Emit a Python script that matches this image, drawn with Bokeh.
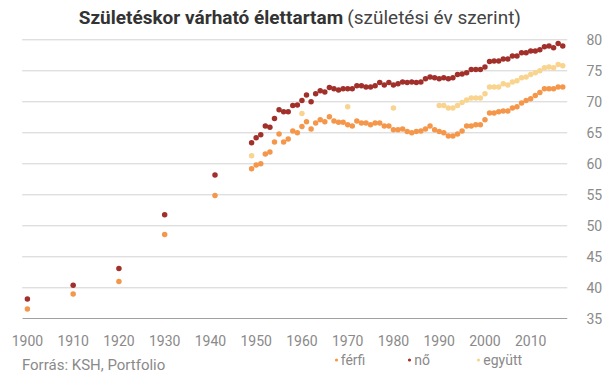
from bokeh.plotting import figure
from bokeh.models import (Label, Legend, LegendItem, LinearAxis, Range1d)
from bokeh.embed import file_html
from bokeh.resources import INLINE

# ---------------- data ----------------
evek_korai = [1900, 1910, 1920, 1930, 1941]
ferfi_korai = [36.6, 39.0, 41.0, 48.6, 54.9]
no_korai = [38.2, 40.4, 43.1, 51.8, 58.2]

evek = list(range(1949, 2018))
ferfi = [59.2, 59.8, 60.0, 61.6, 61.9, 63.5, 64.8, 63.5, 64.0, 65.3,   # 1949-1958
         65.0, 66.0, 66.8, 65.6, 66.6, 67.1, 66.8, 67.6, 66.9, 66.7,   # 1959-1968
         66.7, 66.3, 66.1, 66.9, 66.6, 66.6, 66.3, 66.6, 66.6, 66.1,   # 1969-1978
         66.1, 65.5, 65.5, 65.6, 65.2, 65.0, 65.2, 65.3, 65.6, 66.1,   # 1979-1988
         65.5, 65.2, 65.0, 64.5, 64.5, 64.8, 65.3, 66.1, 66.1, 66.3,   # 1989-1998
         66.3, 67.1, 68.2, 68.2, 68.4, 68.5, 68.5, 69.0, 69.2, 69.8,   # 1999-2008
         70.2, 70.5, 71.0, 71.5, 72.1, 72.1, 72.1, 72.4, 72.4]         # 2009-2017
no = [63.4, 64.2, 64.7, 66.1, 65.9, 67.3, 68.7, 68.4, 68.4, 69.4,      # 1949-1958
      69.5, 70.2, 71.1, 70.0, 71.3, 71.8, 71.6, 72.3, 72.1, 71.9,      # 1959-1968
      72.1, 72.1, 72.1, 72.6, 72.6, 72.4, 72.4, 72.6, 73.1, 72.7,      # 1969-1978
      73.1, 72.7, 72.9, 73.2, 73.1, 73.2, 73.1, 73.2, 73.7, 74.0,      # 1979-1988
      73.9, 73.7, 73.9, 73.7, 73.9, 74.4, 74.5, 74.7, 75.2, 75.2,      # 1989-1998
      75.2, 75.6, 76.5, 76.6, 76.6, 76.9, 76.9, 77.4, 77.4, 77.9,      # 1999-2008
      77.9, 78.2, 78.2, 78.4, 78.9, 79.0, 78.7, 79.4, 79.0]            # 2009-2017

egyutt_evek = [1949, 1960, 1970, 1980] + list(range(1990, 2018))
egyutt = [61.3, 68.1, 69.2, 69.0,
          69.4, 69.4, 69.0, 69.0, 69.4, 69.9, 70.3, 70.6, 70.6, 70.6,  # 1990-1999
          71.3, 72.4, 72.4, 72.4, 72.9, 72.7, 73.2, 73.4, 73.9, 74.0,  # 2000-2009
          74.4, 74.7, 75.0, 75.5, 75.6, 75.5, 76.0, 75.8]              # 2010-2017

x_tickek = list(range(1900, 2011, 10))
y_tickek = list(range(35, 81, 5))

cim_felkover = "Születéskor várható élettartam"
cim_normal = "(születési év szerint)"
forras = "Forrás: KSH, Portfolio"
sorozat_nevek = ["férfi", "nő", "együtt"]

# ---------------- style ----------------
C_FERFI = "#f5974a"
C_NO = "#a2302a"
C_EGYUTT = "#f8d48f"
GRAY = "#8a8a8a"
GRID = "#d2d2d2"
FONT = "Roboto"

# horizontal extent of the chart band (the gridlines and base line)
SAV_X0, SAV_X1 = 1898.86, 2018.04

# the frame spans the full height; the value axis maps 35..80 onto the chart band
p = figure(width=605, height=378, output_backend="svg", toolbar_location=None,
           x_range=Range1d(1894.12, SAV_X1), y_range=Range1d(25.37, 86.34),
           min_border_left=0, min_border_right=30, min_border_top=0,
           min_border_bottom=0, x_axis_location=None, y_axis_location=None)
p.outline_line_color = None
p.background_fill_color = "white"
p.border_fill_color = "white"
p.xgrid.visible = False
p.ygrid.visible = False

# x axis, fixed at value 35
xa = LinearAxis(ticker=x_tickek, fixed_location=35, bounds=(SAV_X0, SAV_X1))
xa.axis_line_color = "#a0a0a0"
xa.axis_line_width = 1.2
xa.major_tick_line_color = None
xa.minor_tick_line_color = None
xa.major_label_text_color = GRAY
xa.major_label_text_font = FONT
xa.major_label_text_font_size = "14px"
xa.major_label_standoff = 10
p.add_layout(xa, "below")

# y axis on the right
ya = LinearAxis(ticker=y_tickek)
ya.axis_line_color = None
ya.major_tick_line_color = None
ya.minor_tick_line_color = None
ya.major_label_text_color = GRAY
ya.major_label_text_font = FONT
ya.major_label_text_font_size = "14px"
ya.major_label_standoff = 13
p.add_layout(ya, "right")

# horizontal gridlines at the value ticks (35 is the axis line)
racs_y = y_tickek[1:]
p.segment(x0=[SAV_X0] * len(racs_y), y0=racs_y, x1=[SAV_X1] * len(racs_y), y1=racs_y,
          line_color=GRID, line_width=1)

size = 5.5
r_f1 = p.scatter(evek_korai, ferfi_korai, size=size, fill_color=C_FERFI, line_color=None)
r_f2 = p.scatter(evek, ferfi, size=size, fill_color=C_FERFI, line_color=None)
r_n1 = p.scatter(evek_korai, no_korai, size=size, fill_color=C_NO, line_color=None)
r_n2 = p.scatter(evek, no, size=size, fill_color=C_NO, line_color=None)
r_e = p.scatter(egyutt_evek, egyutt, size=size, fill_color=C_EGYUTT, line_color=None)

legend = Legend(items=[LegendItem(label=sorozat_nevek[0], renderers=[r_f2]),
                       LegendItem(label=sorozat_nevek[1], renderers=[r_n2]),
                       LegendItem(label=sorozat_nevek[2], renderers=[r_e])],
                orientation="horizontal", location=(331.7, 10.3),
                padding=0, margin=0, spacing=40, glyph_width=8, glyph_height=15,
                label_height=15, label_standoff=1,
                label_text_font=FONT, label_text_font_size="14px",
                label_text_color=GRAY, background_fill_alpha=0,
                border_line_alpha=0)
p.add_layout(legend, "center")

p.add_layout(Label(x=1969.0, y=83.52, text=cim_felkover, text_align="right",
                   text_baseline="middle", text_font=FONT, text_font_size="19px",
                   text_font_style="bold", text_color="#333333"))
p.add_layout(Label(x=1969.9, y=83.52, text=cim_normal, text_align="left",
                   text_baseline="middle", text_font=FONT, text_font_size="19px",
                   text_color="#444444"))
p.add_layout(Label(x=1898.8, y=27.48, text=forras, text_align="left",
                   text_baseline="middle", text_font=FONT, text_font_size="15px",
                   text_color=GRAY))

open("out.html", "w").write(file_html(p, INLINE))
